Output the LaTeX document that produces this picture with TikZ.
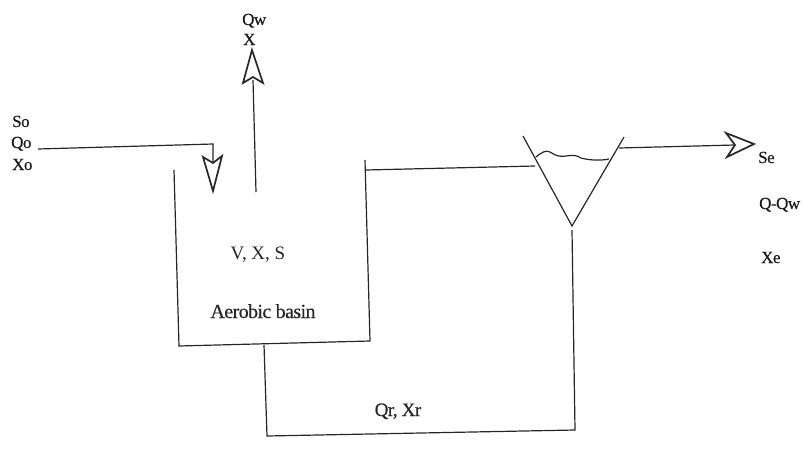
\documentclass[tikz,border=0pt]{standalone}
\usepackage{fontspec}
\setmainfont{Liberation Serif}
\newfontfamily\scanfont[FakeBold=0.4,LetterSpace=-3]{Liberation Serif}
\tikzset{
  pipe/.style={draw=black!85,line width=1.2pt},
  head/.style={draw=black!85,line width=1.7pt,fill=white,line join=miter},
  lbl/.style={inner sep=0pt,font=\fontsize{19}{19}\selectfont,text=black!85},
  tight/.style={inner sep=0pt,font=\scanfont\fontsize{17}{17}\selectfont,text=black!90}
}
\begin{document}
\begin{tikzpicture}[x=1pt,y=-1pt]
\useasboundingbox (0,0) rectangle (803,450);
% inlet
\coordinate (inS) at (38,149);
\coordinate (inC) at (213,144);
\coordinate (inE) at (213,165);
\draw[pipe] (inS) -- (inC) -- (inE);
\draw[head] (203,157) -- (213,191) -- (222,156) -- (213,163) -- cycle;
% waste
\coordinate (wS) at (256,192);
\coordinate (wE) at (253,80);
\draw[pipe] (wS) -- (wE);
\draw[head] (252,50) -- (263,83) -- (253,77) -- (243,83) -- cycle;
% basin
\coordinate (bTL) at (174,170);
\coordinate (bBL) at (179,346);
\coordinate (bBR) at (370,341);
\coordinate (bTR) at (365,160);
\draw[pipe] (bTL) -- (bBL) -- (bBR) -- (bTR);
% to clarifier
\coordinate (cIn) at (535,166);
\coordinate (bOut) at (366,170);
\draw[pipe] (bOut) -- (cIn);
% clarifier
\coordinate (cL) at (523,136);
\coordinate (cA) at (572,226);
\coordinate (cR) at (624,137);
\draw[pipe] (cL) -- (cA) -- (cR);
\draw[pipe] (536,157) .. controls (542,152) and (546,150) .. (550,152)
  .. controls (556,156) and (560,157) .. (566,156)
  .. controls (572,155) and (577,155) .. (581,158)
  .. controls (588,160) and (600,161) .. (609,159);
% outlet
\coordinate (oS) at (619,148);
\coordinate (oE) at (735,145);
\draw[pipe] (oS) -- (oE);
\draw[head] (754,144) -- (726,133) -- (735,145) -- (727,157) -- cycle;
% return
\coordinate (rS) at (572,230);
\coordinate (rC) at (575,430);
\coordinate (rD) at (267,436);
\coordinate (rE) at (264,345);
\draw[pipe] (rS) -- (rC) -- (rD) -- (rE);
% labels
\node[tight,anchor=base west] (so) at (12,127) {So};
\node[tight,anchor=base west] (qo) at (11,148) {Qo};
\node[tight,anchor=base west] (xo) at (12,170) {Xo};
\node[tight,anchor=base west] (qw) at (242,25) {Qw};
\node[tight,anchor=base west] (x) at (243,45) {X};
\node[lbl,anchor=base] (vxs) at (258,259) {V, X, S};
\node[lbl,anchor=base,font=\scanfont\fontsize{20}{20}\selectfont] (aer) at (263,318) {Aerobic basin};
\node[lbl,anchor=base,font=\scanfont\fontsize{19}{19}\selectfont] (qr) at (398,416) {Qr, Xr};
\node[tight,anchor=base west] (se) at (758,163) {Se};
\node[tight,anchor=base west] (qq) at (759,209) {Q-Qw};
\node[tight,anchor=base west] (xe) at (761,263) {Xe};
\end{tikzpicture}
\end{document}
